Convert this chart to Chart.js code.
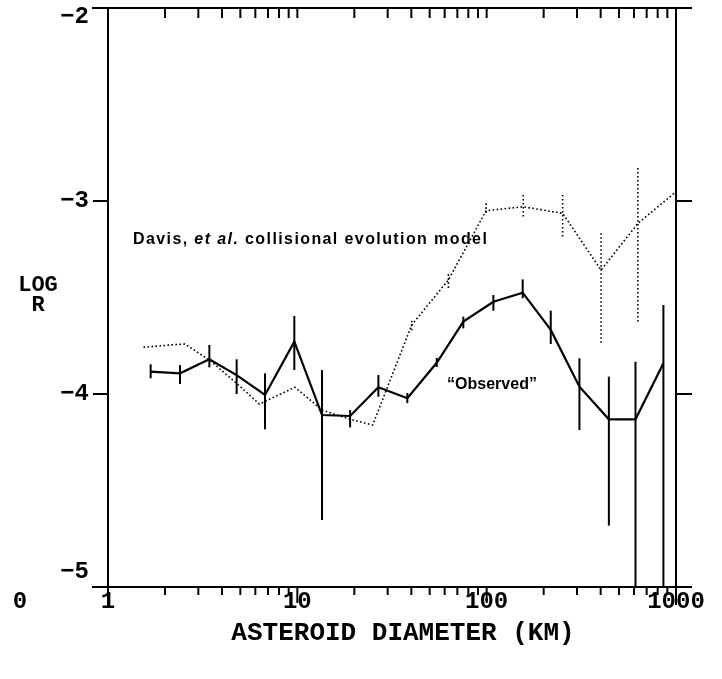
<!DOCTYPE html>
<html><head><meta charset="utf-8">
<script src="https://cdn.jsdelivr.net/npm/chart.js@4/dist/chart.umd.min.js"></script>
<style>html,body{margin:0;padding:0;background:#fff}#wrap{width:722px;height:679px}</style>
</head><body><div id="wrap"><canvas id="c" width="722" height="679"></canvas></div>
<script>
// ---- data ----
const observedDiam = [1.68, 2.40, 3.43, 4.78, 6.75, 9.64, 13.5, 19.0, 26.8, 38.1, 54.5, 75.3, 108.5, 155, 218, 309, 442, 611, 858];
const observedLogR = [-3.884, -3.893, -3.820, -3.902, -4.005, -3.729, -4.109, -4.114, -3.965, -4.022, -3.838, -3.625, -3.522, -3.475, -3.668, -3.962, -4.131, -4.131, -3.841];
const observedHigh = [-3.846, -3.850, -3.746, -3.820, -3.893, -3.596, -3.876, -4.083, -3.902, -3.995, -3.813, -3.599, -3.487, -3.406, -3.568, -3.815, -3.910, -3.833, -3.539];
const observedLow  = [-3.919, -3.948, -3.862, -4.000, -4.183, -3.876, -4.653, -4.173, -4.014, -4.047, -3.860, -3.660, -3.568, -3.504, -3.741, -4.187, -4.682, -5.000, -5.000];

const modelDiam = [1.54, 2.2, 2.55, 3.5, 4.78, 6.3, 9.72, 13.5, 19.0, 25.0, 40.2, 62.8, 99.3, 156, 252, 402, 629, 1000];
const modelLogR = [-3.758, -3.745, -3.741, -3.83, -3.945, -4.052, -3.965, -4.083, -4.131, -4.161, -3.642, -3.409, -3.050, -3.030, -3.064, -3.358, -3.116, -2.952];
const modelHigh = [null, null, null, null, null, null, null, null, null, null, -3.62, -3.38, -3.012, -2.969, -2.969, -3.167, -2.829, null];
const modelLow  = [null, null, null, null, null, null, null, null, null, null, -3.67, -3.46, -3.073, -3.090, -3.193, -3.737, -3.634, null];

const xTickLabels = [1, 10, 100, 1000];
const yTickLabels = [-2, -3, -4, -5];
const xTitle = "ASTEROID DIAMETER (KM)";
const yTitle = ["LOG", "R"];
const modelLabel = ["Davis, ", "et al.", " collisional evolution model"];
const modelLabelAt = [1.355, -3.20];
const observedLabel = "\u201CObserved\u201D";
const observedLabelAt = [106.7, -3.953];

// ---- chart ----
const errorBarPlugin = {
  id: 'errorBars',
  afterDatasetsDraw(chart) {
    const ctx = chart.ctx, xs = chart.scales.x, ys = chart.scales.y;
    chart.data.datasets.forEach(ds => {
      if (!ds.errHigh) return;
      ctx.save();
      ctx.strokeStyle = '#000';
      ctx.lineWidth = ds.errWidth;
      ctx.setLineDash(ds.borderDash || []);
      ds.data.forEach((p, i) => {
        const hi = ds.errHigh[i], lo = ds.errLow[i];
        if (hi == null || lo == null) return;
        const px = xs.getPixelForValue(p.x);
        ctx.beginPath();
        ctx.moveTo(px, ys.getPixelForValue(hi));
        ctx.lineTo(px, ys.getPixelForValue(lo));
        ctx.stroke();
      });
      ctx.restore();
    });
  }
};

const framePlugin = {
  id: 'frame',
  afterDraw(chart) {
    const ctx = chart.ctx, xs = chart.scales.x, ys = chart.scales.y;
    const a = chart.chartArea;
    ctx.save();
    ctx.strokeStyle = '#000';
    ctx.fillStyle = '#000';
    ctx.lineCap = 'butt';
    ctx.lineWidth = 2;
    [xs.getPixelForValue(1), xs.getPixelForValue(1000)].forEach(px => {
      ctx.beginPath(); ctx.moveTo(px, a.top); ctx.lineTo(px, a.bottom + 18); ctx.stroke();
    });
    yTickLabels.forEach(v => {
      const py = ys.getPixelForValue(v);
      const edge = (v === -2 || v === -5);
      if (edge) {
        ctx.beginPath(); ctx.moveTo(a.left - 16, py); ctx.lineTo(a.right + 16, py); ctx.stroke();
      } else {
        ctx.beginPath(); ctx.moveTo(a.left - 15, py); ctx.lineTo(a.left, py); ctx.stroke();
        ctx.beginPath(); ctx.moveTo(a.right, py); ctx.lineTo(a.right + 16, py); ctx.stroke();
      }
    });
    for (let dec = 1; dec < 1000; dec *= 10) {
      for (let m = 2; m <= 10; m++) {
        const v = m * dec;
        if (v >= 1000) continue;
        const px = xs.getPixelForValue(v);
        const major = (m === 10);
        ctx.beginPath(); ctx.moveTo(px, a.bottom); ctx.lineTo(px, a.bottom + (major ? 16 : 8)); ctx.stroke();
        ctx.beginPath(); ctx.moveTo(px, a.top); ctx.lineTo(px, a.top + 10); ctx.stroke();
      }
    }
    ctx.font = 'bold 24px "Liberation Mono"';
    ctx.textAlign = 'center';
    ctx.textBaseline = 'middle';
    xTickLabels.forEach(v => {
      ctx.fillText(String(v), xs.getPixelForValue(v), a.bottom + 15);
    });
    ctx.fillText('0', 20, a.bottom + 15);
    ctx.textAlign = 'right';
    yTickLabels.forEach(v => {
      let py = ys.getPixelForValue(v);
      if (v === -2) py += 9;
      if (v === -5) py -= 15;
      ctx.fillText(String(v).replace('-', '\u2212'), a.left - 19, py);
    });
    ctx.textAlign = 'center';
    ctx.font = 'bold 26px "Liberation Mono"';
    ctx.fillText(xTitle, (a.left + a.right) / 2 + 11, a.bottom + 46);
    ctx.font = 'bold 22px "Liberation Mono"';
    ctx.fillText(yTitle[0], 38, 285);
    ctx.fillText(yTitle[1], 38, 305);
    ctx.textAlign = 'left';
    ctx.textBaseline = 'middle';
    let tx = xs.getPixelForValue(modelLabelAt[0]);
    const ty = ys.getPixelForValue(modelLabelAt[1]);
    ctx.letterSpacing = '1.4px';
    modelLabel.forEach((s, i) => {
      ctx.font = (i === 1 ? 'italic ' : '') + 'bold 16px "Liberation Sans"';
      ctx.fillText(s, tx, ty);
      tx += ctx.measureText(s).width;
    });
    ctx.letterSpacing = '0px';
    ctx.textAlign = 'center';
    ctx.font = 'bold 16px "Liberation Sans"';
    ctx.fillText(observedLabel, xs.getPixelForValue(observedLabelAt[0]), ys.getPixelForValue(observedLabelAt[1]));
    ctx.restore();
  }
};

new Chart(document.getElementById('c'), {
  type: 'line',
  data: {
    datasets: [
      {
        label: 'Observed',
        data: observedDiam.map((d, i) => ({x: d, y: observedLogR[i]})),
        errHigh: observedHigh, errLow: observedLow, errWidth: 2,
        borderColor: '#000', borderWidth: 2.2, pointRadius: 0, tension: 0, fill: false
      },
      {
        label: 'Davis, et al. collisional evolution model',
        data: modelDiam.map((d, i) => ({x: d, y: modelLogR[i]})),
        errHigh: modelHigh, errLow: modelLow, errWidth: 1.6,
        borderColor: '#000', borderWidth: 1.6, borderDash: [1.6, 2.4], pointRadius: 0, tension: 0, fill: false
      }
    ]
  },
  options: {
    responsive: false,
    animation: false,
    devicePixelRatio: 1,
    layout: {padding: {left: 108, right: 46, top: 8, bottom: 92}},
    plugins: {legend: {display: false}, tooltip: {enabled: false}},
    scales: {
      x: {type: 'logarithmic', min: 1, max: 1000, display: false},
      y: {type: 'linear', min: -5, max: -2, display: false}
    }
  },
  plugins: [errorBarPlugin, framePlugin]
});
</script>
</body></html>
